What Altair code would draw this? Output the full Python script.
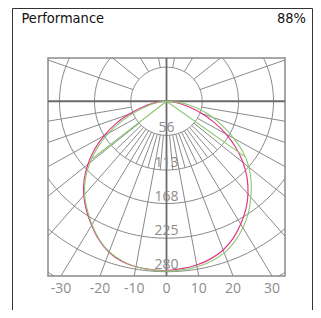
import math
import altair as alt
import pandas as pd

TITLE = "Performance"
EFFICIENCY = "88%"

# gamma angles (degrees from nadir)
GAMMA = [0, 5, 10, 15, 20, 25, 30, 35, 40, 45, 50, 55, 60, 65, 70, 75, 80, 85, 90]
# luminous intensity, cd/klm
C0 = [277, 276, 273, 268, 260, 248, 233, 217, 199, 179, 157, 133, 108, 83, 59, 38, 21, 8, 0]
C180 = [278, 277.5, 276, 272, 264, 251, 235, 219, 202, 183, 161, 138, 113, 88, 63, 41, 23, 9, 0]
C90 = [279, 278, 276, 272, 265, 254, 240, 224, 206, 188, 169, 147, 122, 98, 77, 57, 37, 17, 0]
C270 = [279, 278, 276, 271, 263, 250, 234, 217, 200, 180, 157, 132, 105, 78, 53, 33, 17, 6, 0]
CHORD_GAMMA = [-51, 0, 53.5]
CHORD_CD = [150, 0, 153]

RINGS = [56, 113, 168, 225, 280, 337]
RING_LABELS = ["56", "113", "168", "225", "280"]
SPOKES_LONG = [10, 20, 30, 40, 50, 60, 70, 80, 110, 130, 150, 170]
SPOKES_SHORT = [5, 15, 25, 35, 45]
BOTTOM_TICKS = [-30, -20, -10, 0, 10, 20, 30]

X_DOM = [-186, 186]
Y_DOM = [-287, 71]

GRID = "#8a8a8a"
AXIS = "#6a6a6a"
MAGENTA = "#e2368a"
GREEN = "#8dc873"
LABEL = "#8c8c8c"
TITLE_FONT = "'DejaVu Sans Condensed', Roboto, sans-serif"


def px(g, r):
    a = math.radians(g)
    return r * math.sin(a), -r * math.cos(a)


# rings
ring_rows = []
for r in RINGS:
    for t in range(0, 361, 3):
        x, y = px(t, r)
        ring_rows.append({"ring": r, "t": t, "x": x, "y": y})
rings_df = pd.DataFrame(ring_rows)

# spokes
spoke_rows = []
k = 0
for g in SPOKES_LONG:
    for s in (1, -1):
        for i, r in enumerate((56, 600)):
            x, y = px(s * g, r)
            spoke_rows.append({"id": k, "o": i, "x": x, "y": y})
        k += 1
for g in SPOKES_SHORT:
    for s in (1, -1):
        for i, r in enumerate((56, 113)):
            x, y = px(s * g, r)
            spoke_rows.append({"id": k, "o": i, "x": x, "y": y})
        k += 1
spokes_df = pd.DataFrame(spoke_rows)


def curve(left, right, name):
    rows = []
    for g, v in zip(GAMMA[::-1], left[::-1]):
        x, y = px(-g, v)
        rows.append({"s": name, "g": -g, "x": x, "y": y})
    for g, v in zip(GAMMA[1:], right[1:]):
        x, y = px(g, v)
        rows.append({"s": name, "g": g, "x": x, "y": y})
    return rows


mag_df = pd.DataFrame(curve(C180, C0, "C0-C180"))
grn_df = pd.DataFrame(curve(C270, C90, "C90-C270"))
chord_df = pd.DataFrame([
    {"g": g, "x": px(g, v)[0], "y": px(g, v)[1]} for g, v in zip(CHORD_GAMMA, CHORD_CD)
])

ring_lab_df = pd.DataFrame({"t": RING_LABELS, "x": 0, "y": [-float(v) for v in RING_LABELS]})
tick_df = pd.DataFrame({
    "t": [str(v) for v in BOTTOM_TICKS],
    "x": [-Y_DOM[0] * math.tan(math.radians(v)) for v in BOTTOM_TICKS],
    "y": Y_DOM[0],
})

X = alt.X("x:Q", scale=alt.Scale(domain=X_DOM, nice=False, zero=False), axis=None)
Y = alt.Y("y:Q", scale=alt.Scale(domain=Y_DOM, nice=False, zero=False), axis=None)

rings = alt.Chart(rings_df).mark_line(clip=True, stroke=GRID, strokeWidth=1).encode(
    x=X, y=Y, detail="ring:N", order="t:Q")
spokes = alt.Chart(spokes_df).mark_line(clip=True, stroke=GRID, strokeWidth=1).encode(
    x=X, y=Y, detail="id:N", order="o:Q")
hline = alt.Chart(pd.DataFrame({"y": [0]})).mark_rule(stroke=AXIS, strokeWidth=1.8).encode(y=Y)
vline = alt.Chart(pd.DataFrame({"x": [0]})).mark_rule(stroke=AXIS, strokeWidth=1.8).encode(x=X)

ring_text = alt.Chart(ring_lab_df).mark_text(
    font="Open Sans", fontSize=14, color=LABEL, baseline="alphabetic", align="center", dy=-3
).encode(x=X, y=Y, text="t:N")
tick_text = alt.Chart(tick_df).mark_text(
    font="Open Sans", fontSize=14, color=LABEL, baseline="middle", align="center", dy=13
).encode(x=X, y=Y, text="t:N")

mag = alt.Chart(mag_df).mark_line(clip=True, stroke=MAGENTA, strokeWidth=1.2,
                                  interpolate="catmull-rom").encode(x=X, y=Y, order="g:Q")
grn = alt.Chart(grn_df).mark_line(clip=True, stroke=GREEN, strokeWidth=1.1,
                                  interpolate="catmull-rom").encode(x=X, y=Y, order="g:Q")
chord = alt.Chart(chord_df).mark_line(clip=True, stroke=GREEN, strokeWidth=1.1).encode(
    x=X, y=Y, order="g:Q")

one = pd.DataFrame({"a": [0]})
title_l = alt.Chart(pd.DataFrame({"t": [TITLE]})).mark_text(
    font=TITLE_FONT, fontSize=14.5, color="#111", align="left", baseline="alphabetic"
).encode(x=alt.value(-26.5), y=alt.value(-35), text="t:N")
title_r = alt.Chart(pd.DataFrame({"t": [EFFICIENCY]})).mark_text(
    font=TITLE_FONT, fontSize=14.5, color="#111", align="right", baseline="alphabetic"
).encode(x=alt.value(258), y=alt.value(-35), text="t:N")
frame_l = alt.Chart(one).mark_rule(stroke="#333", strokeWidth=1).encode(
    x=alt.value(-35.5), y=alt.value(-49.5), y2=alt.value(260))
frame_r = alt.Chart(one).mark_rule(stroke="#333", strokeWidth=1).encode(
    x=alt.value(264.5), y=alt.value(-49.5), y2=alt.value(260))
frame_t = alt.Chart(one).mark_rule(stroke="#333", strokeWidth=1).encode(
    x=alt.value(-35.5), x2=alt.value(264.5), y=alt.value(-49.5))

chart = alt.layer(
    rings, spokes, hline, vline, ring_text, mag, grn, chord, tick_text,
    title_l, title_r, frame_l, frame_r, frame_t
).properties(
    width=237, height=218,
    padding={"left": 40, "top": 50, "right": 28, "bottom": 34},
    autosize=alt.AutoSizeParams(type="none"),
).configure_view(stroke=GRID, strokeWidth=1.5)

chart.save("out.html", embed_options={"renderer": "svg", "actions": False})
